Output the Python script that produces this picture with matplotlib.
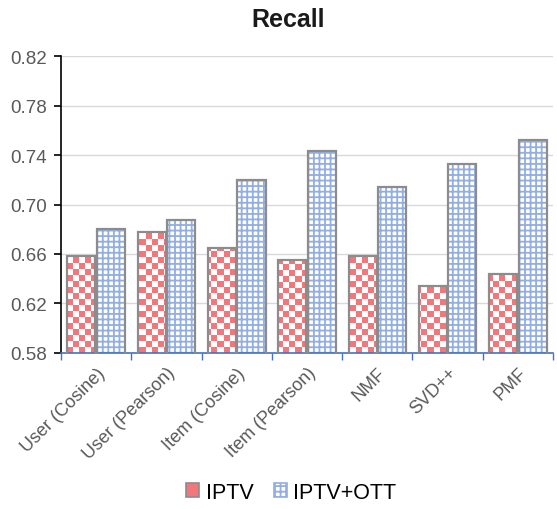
import numpy as np
import matplotlib
matplotlib.use('Agg')
import matplotlib.pyplot as plt
from matplotlib.colors import ListedColormap
from matplotlib.patches import Patch

# data
categories = ['User (Cosine)', 'User (Pearson)', 'Item (Cosine)', 'Item (Pearson)',
              'NMF', 'SVD++', 'PMF']
iptv = [0.658, 0.678, 0.665, 0.655, 0.658, 0.634, 0.644]
iptv_ott = [0.680, 0.6875, 0.720, 0.743, 0.714, 0.733, 0.752]
yticks = [0.58, 0.62, 0.66, 0.70, 0.74, 0.78, 0.82]

plt.rcParams['font.family'] = ['Liberation Sans', 'DejaVu Sans']
plt.rcParams['hatch.linewidth'] = 1.3

RED = '#F2767A'
BLUE = '#93AEE0'
EDGE = '#8C8C8C'
TXT = '#595959'

fig = plt.figure(figsize=(5.57, 5.10), dpi=100)
ax = fig.add_axes([0.1095, 0.306, 0.8835, 0.582])

x = np.arange(len(categories))
w = 0.4
off = 0.21

# IPTV: white bars, filled with a clipped checkerboard
b1 = ax.bar(x - off, iptv, w, bottom=0, color='white', edgecolor='none', zorder=2)
ny, nx = 50, 82
checker = (np.add.outer(np.arange(ny), np.arange(nx)) % 2).astype(float)
cmap = ListedColormap([RED, 'white'])
for bar in b1:
    im = ax.imshow(checker, cmap=cmap, extent=[0, 1, 0, 1], transform=ax.transAxes,
                   interpolation='nearest', aspect='auto', zorder=2.5)
    im.set_clip_path(bar)
ax.bar(x - off, iptv, w, fill=False, edgecolor=EDGE, linewidth=1.6, zorder=3)

# IPTV+OTT: blue grid hatch
ax.bar(x + off, iptv_ott, w, color='white', edgecolor=BLUE, hatch='+++',
       linewidth=0, zorder=2)
ax.bar(x + off, iptv_ott, w, fill=False, edgecolor=EDGE, linewidth=1.6, zorder=3)

ax.set_xlim(-0.5, len(categories) - 0.5)
ax.set_ylim(0.58, 0.82)
ax.set_yticks(yticks)
ax.set_yticklabels([f'{v:.2f}' for v in yticks])
ax.yaxis.grid(True, color='#D9D9D9', linewidth=1.0, zorder=0)
ax.set_axisbelow(True)

ax.set_xticks(x)
ax.set_xticklabels(categories, rotation=45, ha='right', rotation_mode='anchor')
ax.set_xticks(np.arange(len(categories) + 1) - 0.5, minor=True)
ax.tick_params(axis='x', which='major', length=0, pad=8, labelsize=13, labelcolor=TXT)
ax.tick_params(axis='x', which='minor', length=5, color='#4472C4', width=1)
ax.tick_params(axis='y', length=5, width=1.2, color='black', labelsize=13.5,
               labelcolor=TXT, pad=5)

for s in ['top', 'right']:
    ax.spines[s].set_visible(False)
ax.spines['left'].set_color('black')
ax.spines['left'].set_linewidth(1.2)
ax.spines['bottom'].set_color('#4472C4')
ax.spines['bottom'].set_linewidth(1.2)

fig.text(0.517, 0.961, 'Recall', ha='center', va='center', fontsize=18,
         fontweight='bold', color='#1a1a1a')

handles = [Patch(facecolor=RED, edgecolor=EDGE, linewidth=1.2),
           Patch(facecolor='white', edgecolor=BLUE, hatch='+++', linewidth=1.2)]
fig.legend(handles, ['IPTV', 'IPTV+OTT'], loc='center', bbox_to_anchor=(0.523, 0.033),
           ncol=2, frameon=False, fontsize=15.5, handlelength=0.6, handleheight=0.6,
           handletextpad=0.3, columnspacing=0.95)

fig.savefig('out.png', dpi=100)
